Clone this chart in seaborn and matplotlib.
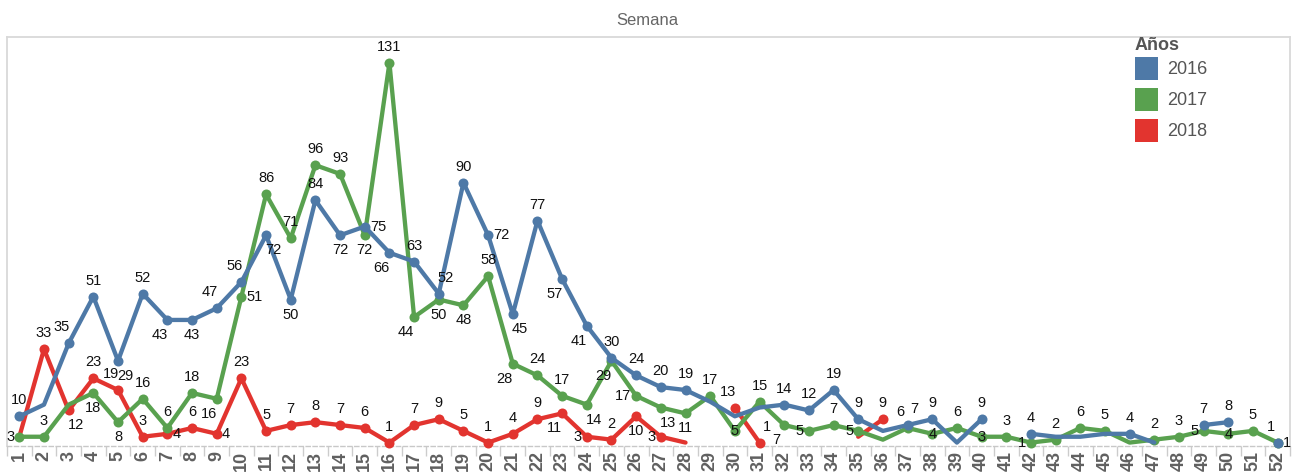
import matplotlib
matplotlib.use("Agg")
import matplotlib.pyplot as plt
from matplotlib.patches import Patch
import numpy as np
import pandas as pd
import seaborn as sns

# ---------------- data ----------------
weeks = list(range(1, 53))
week_labels = [str(w) for w in weeks]
years = ["2016", "2017", "2018"]

v2016 = [10, 14, 35, 51, 29, 52, 43, 43, 47, 56,
         72, 50, 84, 72, 75, 66, 63, 52, 90, 72,
         45, 77, 57, 41, 30, 24, 20, 19, 15, 10,
         13, 14, 12, 19, 9, 5, 7, 9, 1, 9,
         None, 4, 3, 3, 4, 4, 1, None, 7, 8,
         None, 1]
v2017 = [3, 3, 14, 18, 8, 16, 6, 18, 16, 51,
         86, 71, 96, 93, 72, 131, 44, 50, 48, 58,
         28, 24, 17, 14, 29, 17, 13, 11, 17, 5,
         15, 7, 5, 7, 5, 2, 6, 4, 6, 3,
         3, 1, 2, 6, 5, 1, 2, 3, 5, 4,
         5, 1]
v2018 = [3, 33, 12, 23, 19, 3, 4, 6, 4, 23,
         5, 7, 8, 7, 6, 1, 7, 9, 5, 1,
         4, 9, 11, 3, 2, 10, 3, 1, None, 13,
         1, None, None, None, 3, 9, None, None, None, None,
         None, None, None, None, None, None, None, None, None, None,
         None, None]

# weeks whose value label is hidden (label overlap) in the original
hidden_2016 = [2, 29, 30, 31, 36, 39, 43, 44, 45, 47]
hidden_2017 = [3, 36, 46]
hidden_2018 = [1, 28, 35]

# ---------------- style ----------------
colors = {"2016": "#4E79A7", "2017": "#59A14F", "2018": "#E2342F"}
label_place = {
    "2016": {3: "al", 5: "br", 7: "bl", 8: "b", 9: "al", 10: "al", 11: "br", 12: "b",
             14: "b", 15: "r", 16: "bl", 18: "ar", 20: "r", 21: "br", 23: "bl", 24: "bl",
             37: "ar", 52: "r"},
    "2017": {1: "l", 4: "b", 5: "b", 9: "bl", 10: "r", 15: "b", 17: "bl", 18: "b", 19: "b",
             21: "bl", 24: "br", 25: "bl", 26: "l", 27: "br", 28: "b", 30: "c", 32: "bl",
             33: "l", 35: "l", 37: "al", 38: "c", 40: "c", 42: "l", 49: "l", 50: "c", 52: "al"},
    "2018": {3: "br", 5: "al", 7: "r", 9: "r", 23: "bl", 24: "l", 26: "b", 27: "l",
             30: "al", 31: "ar"},
}
# offsets in pixels (dx, dy with y downwards), horizontal alignment
OFFSETS = {"a": (0, -16, "center"), "b": (0, 15, "center"), "l": (-5, 0, "right"),
           "r": (5, 0, "left"), "al": (-7, -16, "center"), "ar": (7, -16, "center"),
           "bl": (-8, 15, "center"), "br": (7, 15, "center"), "c": (0, 0, "center")}

sns.set_theme(style="white")
plt.rcParams["font.family"] = ["Liberation Sans", "DejaVu Sans"]

series = {"2016": (v2016, hidden_2016), "2017": (v2017, hidden_2017), "2018": (v2018, hidden_2018)}
rows = []
for y in years:
    vals, hid = series[y]
    seg = 0
    for w, v in zip(weeks, vals):
        if v is None:
            seg += 1
            continue
        rows.append(dict(week=w, value=v, year=y, seg=f"{y}-{seg}", labeled=w not in hid))
df = pd.DataFrame(rows)

W, H = 1299, 473
fig = plt.figure(figsize=(W / 100, H / 100), dpi=100)
ax = fig.add_axes([7 / W, 27.5 / H, 1283 / W, 408.5 / H])

draw_order = ["2018", "2017", "2016"]
for i, y in enumerate(draw_order):
    sub = df[df.year == y]
    sns.lineplot(data=sub, x="week", y="value", units="seg", estimator=None,
                 color=colors[y], linewidth=3.1, ax=ax, legend=False,
                 zorder=3 + 2 * i, solid_joinstyle="round", solid_capstyle="round",
                 clip_on=False)
    lab = sub[sub.labeled]
    sns.scatterplot(data=lab, x="week", y="value", color=colors[y], s=52,
                    linewidth=0, ax=ax, legend=False, zorder=4 + 2 * i, clip_on=False)

for y in years:
    sub = df[(df.year == y) & (df.labeled)]
    for _, r in sub.iterrows():
        code = label_place[y].get(int(r.week), "a")
        dx, dy, ha = OFFSETS[code]
        ax.annotate(str(int(r.value)), (r.week, r.value), xytext=(dx * 0.72, -dy * 0.72),
                    textcoords="offset points", ha=ha, va="center", fontsize=10.5,
                    color="#111111", zorder=20, annotation_clip=False)

ax.set_xlim(0.5, 52.5)
ax.set_ylim(0, 139.9)
ax.set_xlabel("")
ax.set_ylabel("")
ax.set_yticks([])
ax.set_xticks(weeks)
ax.set_xticklabels(week_labels, rotation=90, fontsize=13, fontweight="bold", color="#606060")
ax.set_xticks(np.arange(0.5, 53, 1), minor=True)
ax.tick_params(axis="x", which="major", length=0, pad=4)
ax.tick_params(axis="x", which="minor", length=7, color="#cccccc", width=1, bottom=True)

for s in ["top", "left", "right"]:
    ax.spines[s].set_color("#d9d9d9")
    ax.spines[s].set_linewidth(1.3)
ax.spines["bottom"].set_color("#c8c8c8")
ax.spines["bottom"].set_linestyle((0, (3, 2)))
ax.spines["bottom"].set_linewidth(1)

fig.text(647 / W, 1 - 20.5 / H, "Semana", ha="center", va="center", fontsize=12, color="#666666")

handles = [Patch(facecolor=colors[y], edgecolor="none", label=y) for y in years]
leg = ax.legend(handles=handles, title="Años", loc="upper left",
                bbox_to_anchor=(1126 / W, 1 - 28 / H), bbox_transform=fig.transFigure,
                frameon=False, fontsize=13, title_fontsize=13, handlelength=1.27,
                handleheight=1.62, handletextpad=0.5, labelspacing=0.42, borderpad=0,
                alignment="left")
leg._legend_box.sep = 2
leg.get_title().set_fontweight("bold")
leg.get_title().set_color("#555555")
for t in leg.get_texts():
    t.set_color("#555555")

fig.savefig("out.png", dpi=100)
